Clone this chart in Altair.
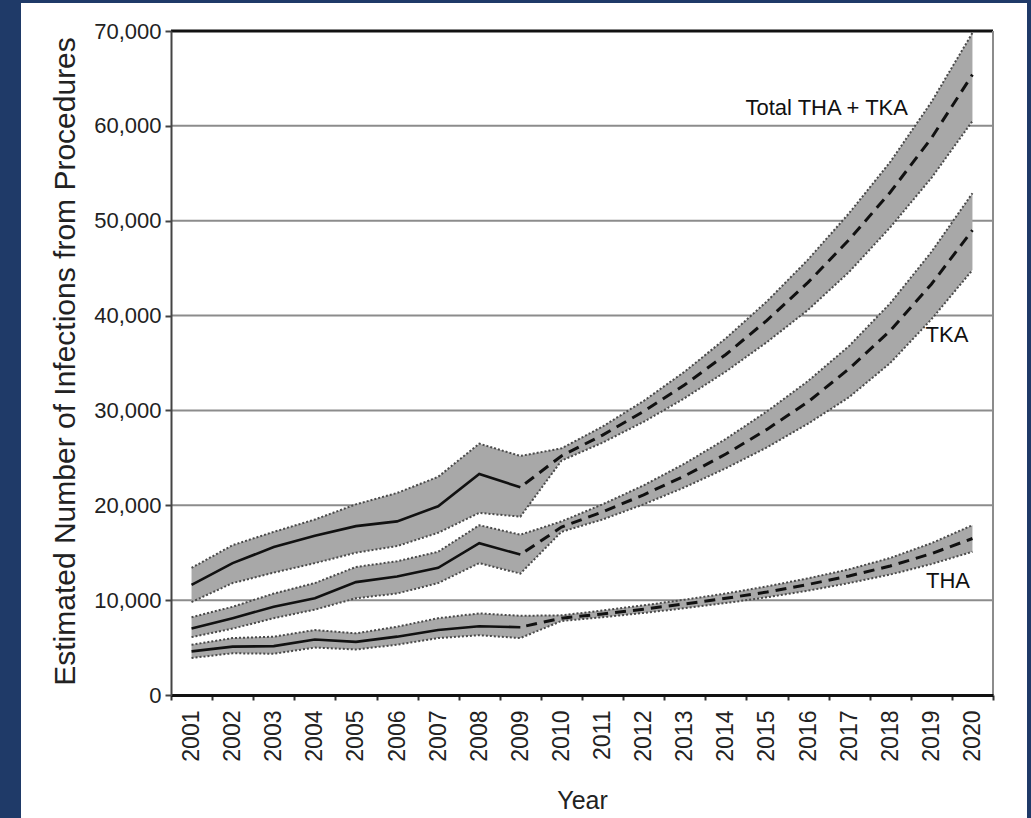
import altair as alt
import pandas as pd

years = list(range(2001, 2021))

total_mid = [11600, 13900, 15600, 16800, 17800, 18300, 19900, 23300, 21900, 25200,
             27400, 29900, 32700, 35900, 39500, 43500, 48000, 53000, 58700, 65400]
total_hi = [13400, 15800, 17200, 18500, 20100, 21300, 23000, 26500, 25200, 26000,
            28300, 31000, 34100, 37600, 41500, 45900, 50800, 56200, 62500, 69800]
total_lo = [9800, 11800, 12900, 13900, 15000, 15700, 17100, 19200, 18800, 24700,
            26600, 28800, 31300, 34100, 37200, 40600, 44600, 49300, 54500, 60500]

tka_mid = [7000, 8100, 9300, 10200, 11900, 12500, 13400, 16000, 14800, 17700,
           19300, 21100, 23100, 25400, 28000, 30900, 34400, 38400, 43300, 49000]
tka_hi = [8200, 9300, 10700, 11800, 13500, 14100, 15100, 17900, 16900, 18300,
          20100, 22100, 24400, 27000, 29900, 33100, 36800, 41300, 46700, 52900]
tka_lo = [6100, 7000, 8100, 9000, 10200, 10700, 11800, 13900, 12800, 17200,
          18500, 20100, 21900, 23900, 26100, 28600, 31400, 35000, 39600, 44800]

tha_mid = [4600, 5100, 5150, 5850, 5600, 6150, 6850, 7250, 7150, 8100,
           8550, 9050, 9600, 10200, 10850, 11650, 12550, 13600, 14900, 16500]
tha_hi = [5300, 6000, 6150, 6850, 6500, 7200, 8100, 8600, 8350, 8400,
          8900, 9450, 10050, 10700, 11450, 12300, 13250, 14450, 16000, 17900]
tha_lo = [3900, 4400, 4350, 5000, 4800, 5300, 6000, 6300, 6000, 7800,
          8200, 8650, 9150, 9700, 10300, 11000, 11800, 12700, 13800, 15100]

series_names = ["Total THA + TKA", "TKA", "THA"]
grid_values = [10000, 20000, 30000, 40000, 50000, 60000]
top_value = [70000]
y_ticks = [0, 10000, 20000, 30000, 40000, 50000, 60000, 70000]
x_ticks = [2000.5 + 0.5 * i for i in range(41)]

# annotation labels (data space)
ann_text = ["Total THA + TKA", "TKA", "THA"]
ann_year = [2018.43, 2019.9, 2019.94]
ann_value = [61100, 37200, 11300]

rows = []
for name, mid, hi, lo in [
    ("Total THA + TKA", total_mid, total_hi, total_lo),
    ("TKA", tka_mid, tka_hi, tka_lo),
    ("THA", tha_mid, tha_hi, tha_lo),
]:
    for y, m, h, l in zip(years, mid, hi, lo):
        rows.append({"year": y, "series": name, "mid": m, "hi": h, "lo": l})
df = pd.DataFrame(rows)

NARROW = "Liberation Sans Narrow, Arial Narrow, Liberation Sans, Arial"
REG = "Liberation Sans, Arial"
NAVY = "#1f3a68"

XS = alt.Scale(domain=[2000.5, 2020.5], nice=False, zero=False)
YS = alt.Scale(domain=[0, 70000], nice=False)

X_AXIS = alt.Axis(
    values=x_ticks,
    labelExpr="datum.value % 1 == 0 ? toString(datum.value) : ''",
    labelAngle=-90,
    labelAlign="right",
    labelBaseline="middle",
    labelFont=REG,
    labelFontSize=23,
    labelColor="#222222",
    labelPadding=10,
    labelOverlap=False,
    labelFlush=False,
    labelBound=False,
    tickSize=5,
    tickWidth=2,
    tickColor="#333333",
    tickOpacity={"condition": {"test": "datum.value % 1 == 0", "value": 0}, "value": 1},
    domainColor="#111111",
    domainWidth=3,
    grid=False,
    title="Year",
    titleFont=NARROW,
    titleFontSize=25,
    titleFontWeight="normal",
    titleColor="#222222",
    titleX=411,
    titleY=105,
    titleAlign="center",
    titleBaseline="middle",
    zindex=1,
)

Y_AXIS = alt.Axis(
    values=y_ticks,
    labelExpr="format(datum.value, ',')",
    labelFont=NARROW,
    labelFontSize=22,
    labelColor="#222222",
    labelPadding=4,
    tickSize=6,
    tickWidth=2,
    tickColor="#444444",
    domainColor="#444444",
    domainWidth=2,
    grid=False,
    title="Estimated Number of Infections from Procedures",
    titleFont=REG,
    titleFontSize=30,
    titleFontWeight="normal",
    titleColor="#222222",
    titleAngle=-90,
    titleX=-106,
    titleY=330,
    titleAlign="center",
    titleBaseline="middle",
    zindex=1,
)

base = alt.Chart(df)

panel = alt.Chart(alt.Data(values=[{"a": 1}])).mark_rect(color="white").encode(
    x=alt.value(-150), x2=alt.value(856), y=alt.value(-28), y2=alt.value(787)
)

grid = alt.Chart(pd.DataFrame({"g": grid_values})).mark_rule(
    color="#8c8c8c", strokeWidth=2
).encode(y=alt.Y("g:Q", scale=YS, axis=Y_AXIS))

bands = base.mark_area(color="#a8a8a8", opacity=1).encode(
    x=alt.X("year:Q", scale=XS, axis=X_AXIS),
    y=alt.Y("lo:Q", scale=YS, axis=Y_AXIS),
    y2="hi:Q",
    detail="series:N",
)

upper = base.mark_line(color="#4a4a4a", strokeWidth=2, strokeDash=[2, 2]).encode(
    x=alt.X("year:Q", scale=XS, axis=X_AXIS),
    y=alt.Y("hi:Q", scale=YS, axis=Y_AXIS),
    detail="series:N",
)

lower = base.mark_line(color="#4a4a4a", strokeWidth=2, strokeDash=[2, 2]).encode(
    x=alt.X("year:Q", scale=XS, axis=X_AXIS),
    y=alt.Y("lo:Q", scale=YS, axis=Y_AXIS),
    detail="series:N",
)

solid = base.transform_filter("datum.year <= 2009").mark_line(
    color="#111111", strokeWidth=2.6
).encode(
    x=alt.X("year:Q", scale=XS, axis=X_AXIS),
    y=alt.Y("mid:Q", scale=YS, axis=Y_AXIS),
    detail="series:N",
)

dashed = base.transform_filter("datum.year >= 2009").mark_line(
    color="#111111", strokeWidth=3, strokeDash=[11, 7], strokeDashOffset=12
).encode(
    x=alt.X("year:Q", scale=XS, axis=X_AXIS),
    y=alt.Y("mid:Q", scale=YS, axis=Y_AXIS),
    detail="series:N",
)

top_line = alt.Chart(pd.DataFrame({"t": top_value})).mark_rule(
    color="#111111", strokeWidth=3
).encode(y=alt.Y("t:Q", scale=YS, axis=Y_AXIS))

right_line = alt.Chart(pd.DataFrame({"r": [2020.5]})).mark_rule(
    color="#8c8c8c", strokeWidth=2
).encode(x=alt.X("r:Q", scale=XS, axis=X_AXIS))

ann_df = pd.DataFrame({"label": ann_text, "year": ann_year, "value": ann_value})
labels = alt.Chart(ann_df).mark_text(
    font=NARROW, fontSize=22, color="#111111", align="right", baseline="alphabetic"
).encode(
    x=alt.X("year:Q", scale=XS, axis=X_AXIS),
    y=alt.Y("value:Q", scale=YS, axis=Y_AXIS),
    text="label:N",
)

chart = alt.layer(
    panel, grid, bands, upper, lower, solid, dashed, top_line, right_line, labels
).properties(
    width=822,
    height=664,
    background=NAVY,
    padding={"left": 171, "top": 31, "right": 38, "bottom": 123},
    autosize=alt.AutoSizeParams(type="none"),
).configure_view(stroke=None)

chart.save("out.html", embed_options={"renderer": "svg", "actions": False})
